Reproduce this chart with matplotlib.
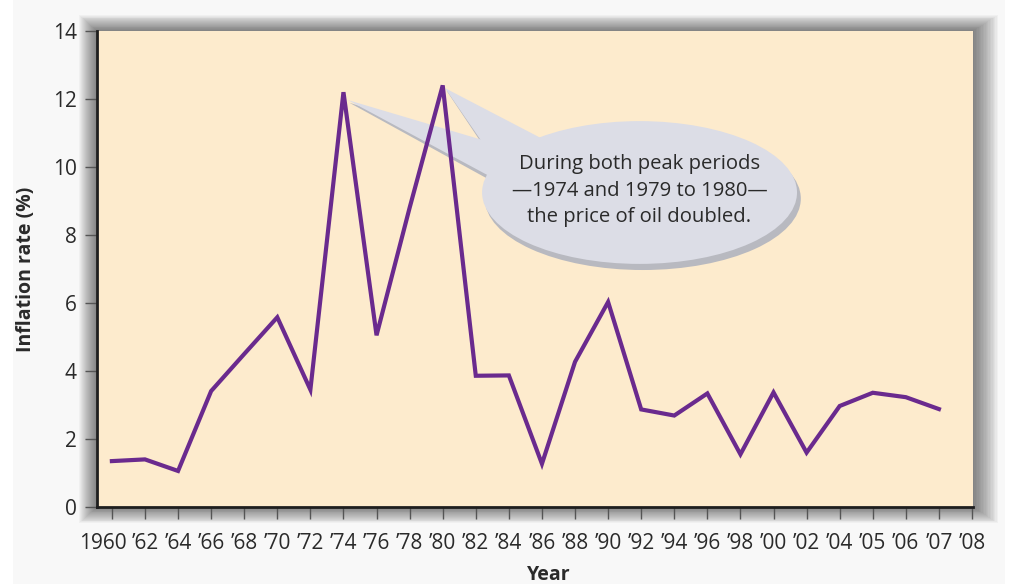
import matplotlib.pyplot as plt
from matplotlib.patches import Rectangle, Ellipse, Polygon
from matplotlib.transforms import ScaledTranslation

plt.rcParams['font.family'] = ['Open Sans', 'DejaVu Sans']

# year labels on the x axis (evenly spaced categories)
years = ['1960', '\u201962', '\u201964', '\u201966', '\u201968', '\u201970', '\u201972',
         '\u201974', '\u201976', '\u201978', '\u201980', '\u201982', '\u201984', '\u201986',
         '\u201988', '\u201990', '\u201992', '\u201994', '\u201996', '\u201998', '\u201900',
         '\u201902', '\u201904', '\u201905', '\u201906', '\u201907', '\u201908']

# inflation rate (%), 1960 .. '07
inflation = [1.35, 1.40, 1.06, 3.41, 4.5, 5.58, 3.45, 12.2, 5.05, 8.8, 12.4,
             3.86, 3.87, 1.27, 4.27, 6.03, 2.87, 2.69, 3.34, 1.55, 3.37, 1.6,
             2.97, 3.36, 3.23, 2.88]

note = "During both peak periods\n\u20141974 and 1979 to 1980\u2014\nthe price of oil doubled."

W, H = 1030, 584
fig = plt.figure(figsize=(W / 100, H / 100), dpi=100, facecolor='white')
fig.patches.append(Rectangle((13 / W, 0), 992 / W, 1, transform=fig.transFigure,
                             facecolor='#f8f8f8', edgecolor='none', zorder=-10))

left, right, bottom, top = 97, 973, 584 - 507, 584 - 31
ax = fig.add_axes([left / W, bottom / H, (right - left) / W, (top - bottom) / H])

# soft drop shadow round the plot area
for i in range(1, 19):
    fig.patches.append(Rectangle(((left - i) / W, (bottom - i * 0.9) / H),
                                 (right - left + 2.4 * i) / W, (top - bottom + 1.8 * i) / H,
                                 transform=fig.transFigure, facecolor='black',
                                 edgecolor='none', alpha=0.032, zorder=-5))

ax.set_facecolor('#fdebcd')
x = list(range(len(inflation)))
ax.plot(x, inflation, color='#6a2a8e', lw=3.0, solid_joinstyle='miter', zorder=5)

# callout bubble
ax.add_patch(Ellipse((16.05, 9.07), 9.55, 4.2, facecolor='#b8b9c0', edgecolor='none', zorder=2))
ax.add_patch(Ellipse((15.95, 9.25), 9.52, 4.2, facecolor='#dcdde6', edgecolor='none', zorder=3))
for tip, b1, b2 in [((7.13, 11.97), (12.64, 10.38), (12.64, 9.09)),
                    ((10.07, 12.32), (13.09, 10.79), (11.73, 9.97))]:
    ax.add_patch(Polygon([(tip[0] + 0.05, tip[1] - 0.08), (b1[0], b1[1] - 0.15),
                          (b2[0] + 0.05, b2[1] - 0.15)],
                         facecolor='#b8b9c0', edgecolor='none', zorder=2))
    ax.add_patch(Polygon([tip, b1, b2], facecolor='#dcdde6', edgecolor='none', zorder=3))
ax.text(15.95, 9.3, note, ha='center', va='center', fontsize=14.6, color='#2a2a2a',
        linespacing=1.42, zorder=4)

ax.set_xlim(-0.45, 26.03)
ax.set_ylim(0, 14)
ax.set_xticks(range(len(years)))
ax.set_xticklabels(years)
ax.set_yticks(range(0, 15, 2))

for s in ['top', 'right']:
    ax.spines[s].set_visible(False)
for s in ['left', 'bottom']:
    ax.spines[s].set_linewidth(2)
    ax.spines[s].set_color('#1e1e1e')
ax.tick_params(axis='both', length=8.6, width=1, color='#555555',
               labelsize=15, labelcolor='#2a2a2a')
ax.tick_params(axis='x', pad=10)
ax.tick_params(axis='y', pad=6)

# the first label sits a little left of its tick
lab0 = ax.get_xticklabels()[0]
lab0.set_transform(lab0.get_transform() + ScaledTranslation(-0.09, 0, fig.dpi_scale_trans))

fig.text(26 / W, 0.5 * (top + bottom) / H, 'Inflation rate (%)', rotation=90,
         ha='center', va='center', fontsize=14, fontweight='bold', color='#2a2a2a')
fig.text(549 / W, 3.5 / H, 'Year', ha='center', va='baseline',
         fontsize=14, fontweight='bold', color='#2a2a2a')

fig.savefig('out.png', dpi=100, facecolor=fig.get_facecolor())
